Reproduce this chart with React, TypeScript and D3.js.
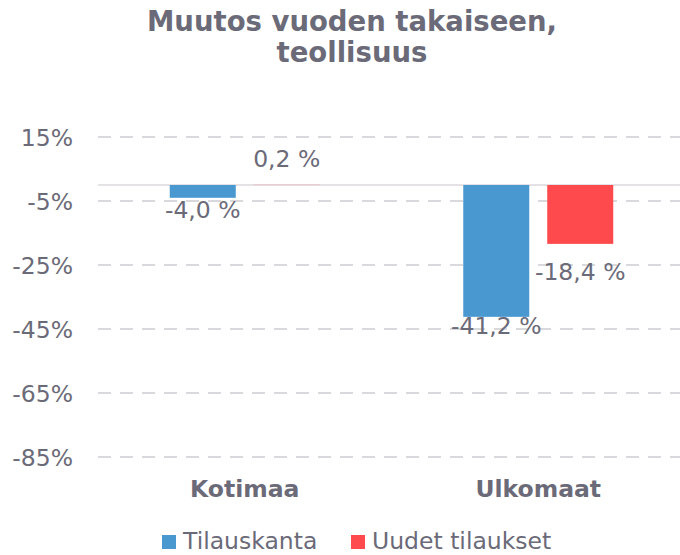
import React from "react";
import * as d3 from "d3";

const categories = ["Kotimaa", "Ulkomaat"];
const seriesNames = ["Tilauskanta", "Uudet tilaukset"];
const tilauskanta = [-4.0, -41.2];
const uudetTilaukset = [0.2, -18.4];
const yTicks = [15, -5, -25, -45, -65, -85];
const titleLines = ["Muutos vuoden takaiseen,", "teollisuus"];

// label nudges (style, not data)
const labelNudge = [
  [20, -17],
  [17, 36],
];

const colors = ["#4a98d0", "#ff4a4d"];
const textColor = "#6b6a78";
const font = "'DejaVu Sans', Verdana, sans-serif";

const W = 680;
const H = 555;

function fmt(v: number) {
  return v.toFixed(1).replace(".", ",") + " %";
}

export default function App() {
  const y = d3.scaleLinear().domain([15, -85]).range([137, 457]);
  const x0 = d3
    .scaleBand<string>()
    .domain(categories)
    .range([98, 685])
    .paddingInner(0.489)
    .paddingOuter(0.2445);
  const x1 = d3
    .scaleBand<string>()
    .domain(seriesNames)
    .range([0, x0.bandwidth()])
    .paddingInner(0.214)
    .paddingOuter(0);
  const values = [tilauskanta, uudetTilaukset];

  return (
    <svg
      width={W}
      height={H}
      style={{ position: "absolute", left: 0, top: 0, background: "#fff" }}
      fontFamily={font}
    >
      {titleLines.map((t, i) => (
        <text
          key={t}
          x={352}
          y={31 + i * 31}
          textAnchor="middle"
          fontSize={27.5}
          fontWeight="bold"
          fill={textColor}
        >
          {t}
        </text>
      ))}
      {yTicks.map((t) => (
        <g key={t}>
          <line
            x1={98}
            x2={685}
            y1={y(t)}
            y2={y(t)}
            stroke="#d9d9dd"
            strokeWidth={2}
            strokeDasharray="13,9"
          />
          <text
            x={73}
            y={y(t)}
            dy={9}
            textAnchor="end"
            fontSize={23.5}
            fill={textColor}
          >
            {t}%
          </text>
        </g>
      ))}
      <line
        x1={98}
        x2={685}
        y1={y(0)}
        y2={y(0)}
        stroke="#dcd9de"
        strokeWidth={1.5}
      />
      {categories.map((c, ci) =>
        seriesNames.map((s, si) => {
          const v = values[si][ci];
          const bx = (x0(c) ?? 0) + (x1(s) ?? 0);
          const y0 = y(0);
          const yv = y(v);
          const top = Math.min(y0, yv);
          const h = Math.abs(yv - y0);
          const isTiny = h < 1.5;
          return (
            <g key={c + s}>
              <rect
                x={bx}
                y={top}
                width={x1.bandwidth()}
                height={Math.max(h, 0.8)}
                fill={colors[si]}
                opacity={isTiny ? 0.2 : 1}
              />
              <text
                x={bx + x1.bandwidth() / 2}
                y={yv + labelNudge[ci][si]}
                textAnchor="middle"
                fontSize={23.5}
                fill={textColor}
              >
                {fmt(v)}
              </text>
            </g>
          );
        })
      )}
      {categories.map((c) => (
        <text
          key={c}
          x={(x0(c) ?? 0) + x0.bandwidth() / 2}
          y={497}
          textAnchor="middle"
          fontSize={23.5}
          fontWeight="bold"
          fill={textColor}
        >
          {c}
        </text>
      ))}
      {seriesNames.map((s, i) => {
        const lx = i === 0 ? 162 : 351;
        return (
          <g key={s}>
            <rect x={lx} y={535} width={14} height={14} fill={colors[i]} />
            <text x={lx + 21} y={549} fontSize={23.5} fill={textColor}>
              {s}
            </text>
          </g>
        );
      })}
    </svg>
  );
}
